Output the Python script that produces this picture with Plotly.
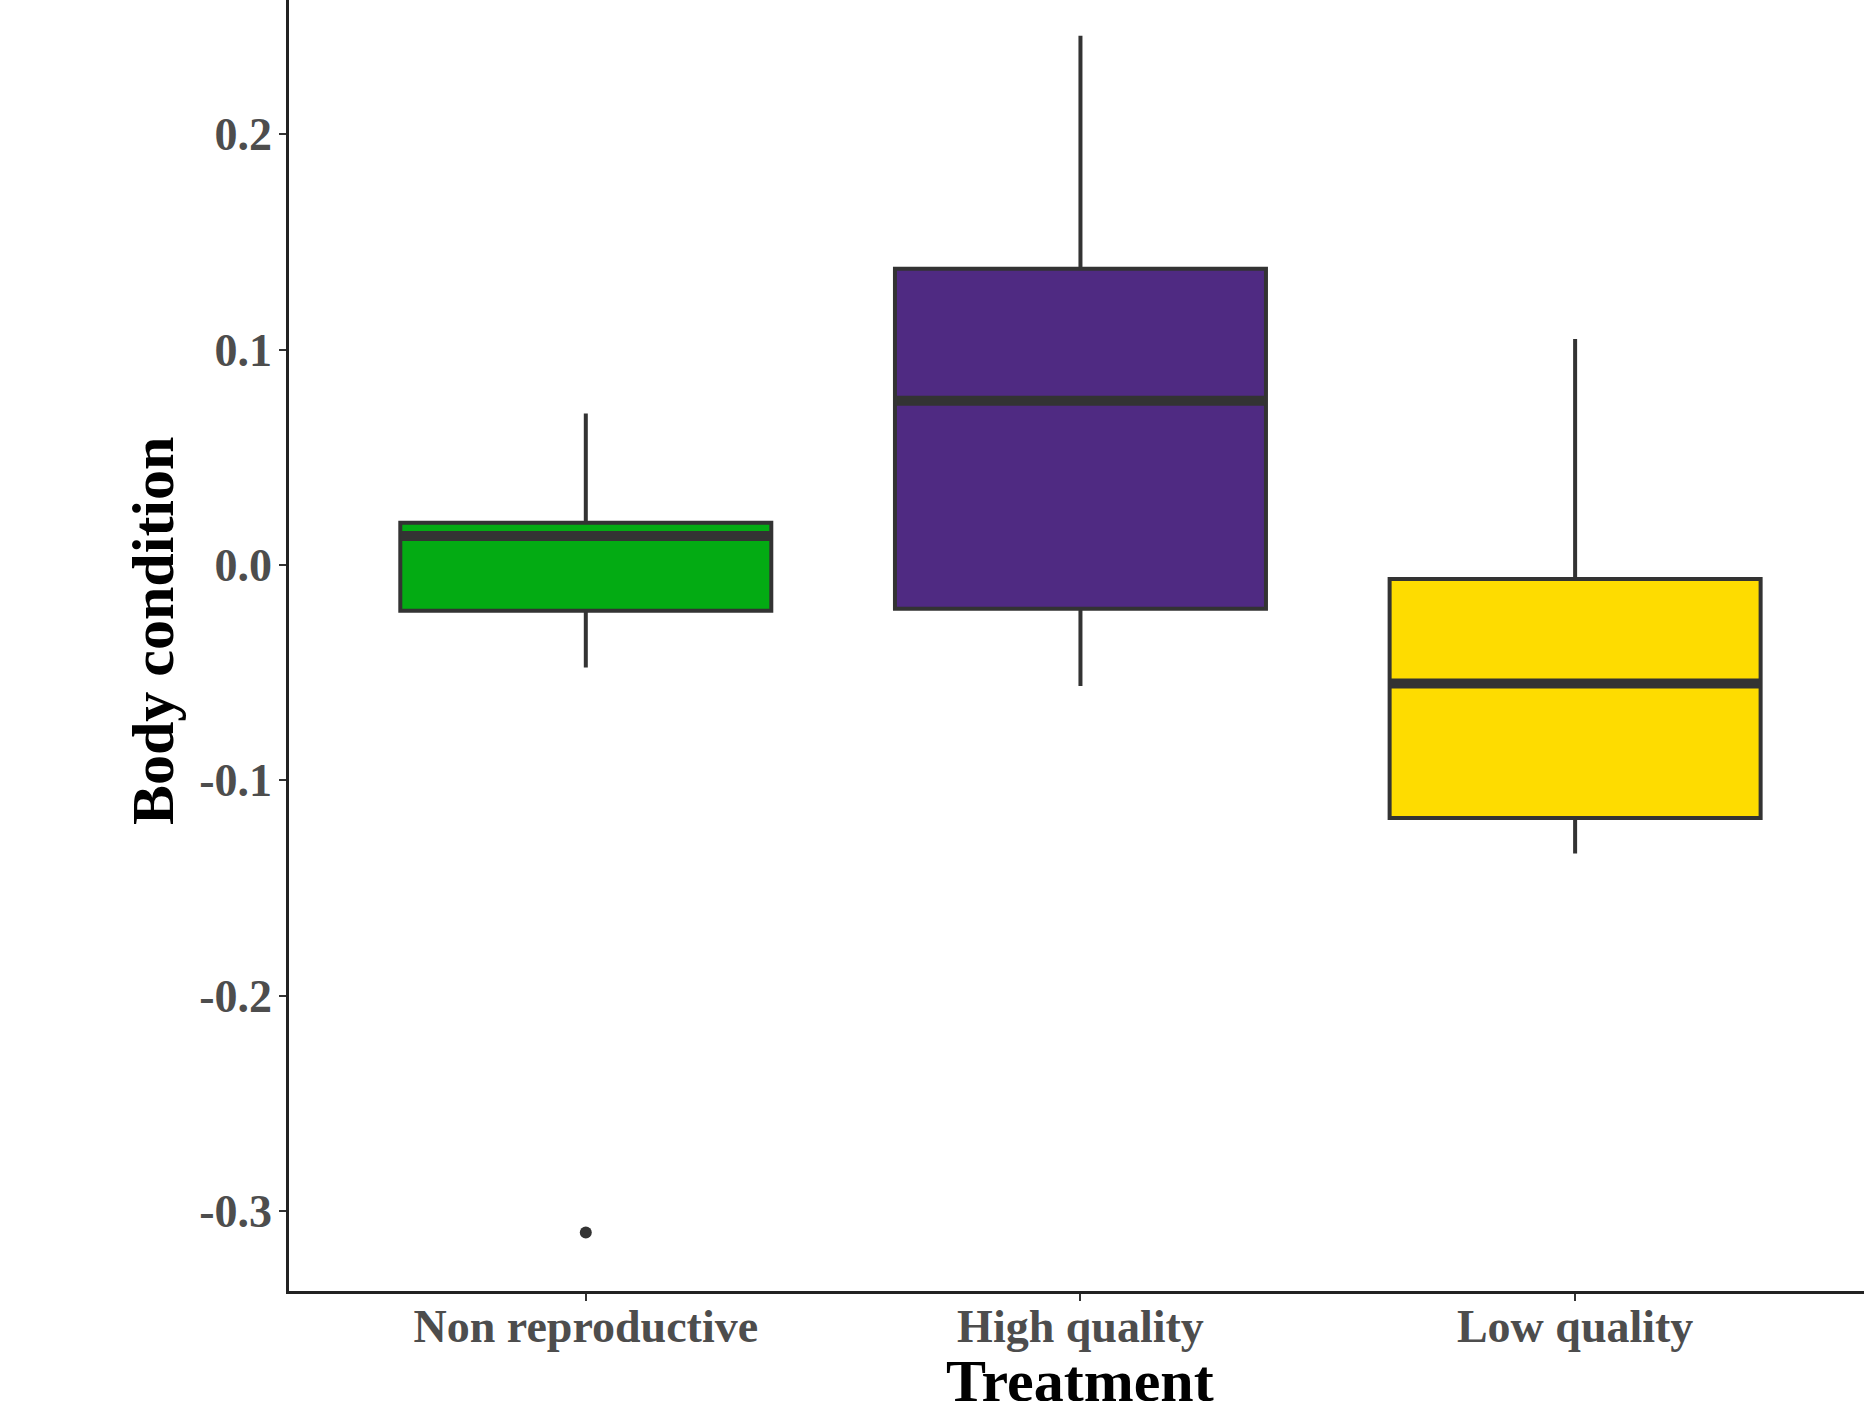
import plotly.graph_objects as go

# ---- data ----
categories = ["Non reproductive", "High quality", "Low quality"]
q1 = [-0.0213, -0.0203, -0.1175]
median = [0.0134, 0.0763, -0.0551]
q3 = [0.0196, 0.1376, -0.0065]
lowerfence = [-0.0476, -0.0562, -0.1340]
upperfence = [0.0704, 0.2458, 0.1050]
outlier_group = [0]
outlier_values = [-0.3100]
fill_colors = ["#03AB13", "#4F2A82", "#FEDC00"]
y_tick_values = [-0.3, -0.2, -0.1, 0.0, 0.1, 0.2]
y_tick_labels = ["-0.3", "-0.2", "-0.1", "0.0", "0.1", "0.2"]
x_title = "Treatment"
y_title = "Body condition"

BOX_WIDTH = 0.75
OUTLINE = "#333333"
FONT = "Liberation Serif"

fig = go.Figure()
positions = list(range(len(categories)))

for i, cat in enumerate(categories):
    fig.add_trace(go.Box(
        x=[positions[i]],
        q1=[q1[i]], median=[median[i]], q3=[q3[i]],
        lowerfence=[lowerfence[i]], upperfence=[upperfence[i]],
        width=BOX_WIDTH,
        whiskerwidth=0,
        fillcolor=fill_colors[i],
        line=dict(color=OUTLINE, width=4),
        boxpoints=False,
        name=cat,
        showlegend=False,
        hoverinfo="skip",
    ))
    # thicker median bar (ggplot fatten)
    fig.add_trace(go.Scatter(
        x=[positions[i] - BOX_WIDTH / 2, positions[i] + BOX_WIDTH / 2],
        y=[median[i], median[i]],
        mode="lines",
        line=dict(color=OUTLINE, width=10),
        showlegend=False,
        hoverinfo="skip",
    ))

fig.add_trace(go.Scatter(
    x=[positions[g] for g in outlier_group],
    y=outlier_values,
    mode="markers",
    marker=dict(color=OUTLINE, size=12),
    showlegend=False,
    hoverinfo="skip",
))

fig.update_layout(
    width=1864, height=1401, autosize=False,
    margin=dict(l=289, r=0, t=0, b=110, pad=0),
    paper_bgcolor="white", plot_bgcolor="white",
    font=dict(family=FONT),
    xaxis=dict(
        range=[-0.6, 2.584],
        tickmode="array", tickvals=positions, ticktext=categories,
        showline=True, linecolor="#222222", linewidth=2.5,
        ticks="outside", ticklen=7, tickwidth=2, tickcolor="#333333",
        ticklabelstandoff=-14,
        tickfont=dict(family=FONT, size=46, color="#4D4D4D", weight="bold"),
        showgrid=False, zeroline=False,
        automargin=False,
    ),
    yaxis=dict(
        range=[-0.3372, 0.2624],
        tickmode="array", tickvals=y_tick_values, ticktext=y_tick_labels,
        showline=True, linecolor="#222222", linewidth=2.5,
        ticks="outside", ticklen=7, tickwidth=2, tickcolor="#333333",
        ticklabelstandoff=-2,
        tickfont=dict(family=FONT, size=46, color="#4D4D4D", weight="bold"),
        showgrid=False, zeroline=False,
        automargin=False,
    ),
    annotations=[
        dict(text=x_title, xref="x", x=positions[1], yref="paper", y=0,
             xanchor="center", yanchor="middle", yshift=-90, showarrow=False,
             font=dict(family=FONT, size=60, color="black", weight="bold")),
        dict(text=y_title, xref="paper", x=0, yref="paper", y=0.5112,
             xanchor="center", yanchor="middle", xshift=-136, textangle=-90,
             showarrow=False,
             font=dict(family=FONT, size=60, color="black", weight="bold")),
    ],
)

fig.write_html("out.html")
